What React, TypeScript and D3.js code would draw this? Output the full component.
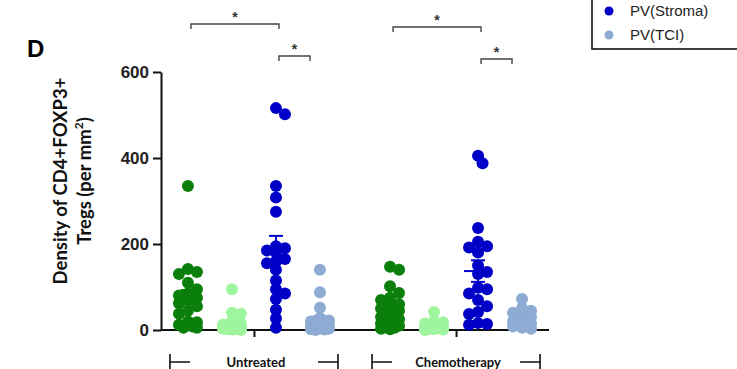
import { useRef, useEffect } from 'react';
import * as d3 from 'd3';

const W = 737;
const H = 369;

const groups = ['Untreated', 'Chemotherapy'];
const seriesKeys = ['npStroma', 'npTci', 'pvStroma', 'pvTci'];
const seriesColors: Record<string, string> = {
  npStroma: '#0b7f0b',
  npTci: '#9ef59e',
  pvStroma: '#0000c6',
  pvTci: '#8eabd4',
};

// legend (only the visible part of the original legend)
const legendItems = [
  { key: 'pvStroma', label: 'PV(Stroma)' },
  { key: 'pvTci', label: 'PV(TCI)' },
];

const yTicks = [0, 200, 400, 600];

// values, per group and series
const untreatedNpStroma = [335, 142, 135, 130, 110, 95, 85, 80, 75, 70, 62, 55, 45, 38, 20, 18, 12, 8, 5, 5];
const untreatedNpTci = [95, 40, 38, 20, 15, 12, 10, 8, 5, 5, 3, 2, 2, 1, 0];
const untreatedPvStroma = [516, 502, 335, 308, 275, 195, 190, 185, 180, 165, 160, 155, 140, 115, 95, 85, 72, 47, 27, 5];
const untreatedPvTci = [140, 88, 52, 28, 22, 20, 18, 15, 12, 10, 8, 6, 5, 4, 3, 2, 1, 0];

const chemoNpStroma = [147, 140, 102, 86, 75, 70, 60, 55, 50, 45, 35, 30, 25, 20, 15, 10, 8, 5, 3, 2];
const chemoNpTci = [42, 20, 18, 15, 12, 10, 8, 6, 5, 4, 3, 2, 1, 0];
const chemoPvStroma = [405, 388, 237, 205, 195, 192, 180, 150, 135, 130, 98, 95, 85, 70, 55, 42, 37, 16, 14, 12];
const chemoPvTci = [72, 50, 45, 40, 35, 30, 28, 25, 20, 18, 15, 12, 10, 8, 5, 3];

const columns = [
  { group: 'Untreated', key: 'npStroma', values: untreatedNpStroma },
  { group: 'Untreated', key: 'npTci', values: untreatedNpTci },
  { group: 'Untreated', key: 'pvStroma', values: untreatedPvStroma },
  { group: 'Untreated', key: 'pvTci', values: untreatedPvTci },
  { group: 'Chemotherapy', key: 'npStroma', values: chemoNpStroma },
  { group: 'Chemotherapy', key: 'npTci', values: chemoNpTci },
  { group: 'Chemotherapy', key: 'pvStroma', values: chemoPvStroma },
  { group: 'Chemotherapy', key: 'pvTci', values: chemoPvTci },
];

// significance brackets: from series a to series b (b null = short bracket)
const significance = [
  { group: 'Untreated', from: 'npStroma', to: 'pvStroma', level: 0, label: '*' },
  { group: 'Untreated', from: 'pvStroma', to: null, level: 1, label: '*' },
  { group: 'Chemotherapy', from: 'npStroma', to: 'pvStroma', level: 0, label: '*' },
  { group: 'Chemotherapy', from: 'pvStroma', to: null, level: 1, label: '*' },
];

const R = 6;

// simple deterministic beeswarm: offsets in pixels for each value
function swarm(values: number[], y: d3.ScaleLinear<number, number>) {
  const step = 4.5;
  const slots = [0, step, -step, 2 * step, -2 * step];
  const placed: { x: number; y: number; v: number }[] = [];
  const sorted = [...values].sort((a, b) => b - a);
  for (const v of sorted) {
    const py = y(v);
    let best = 0;
    let bestD = -1;
    for (const s of slots) {
      let minD = Infinity;
      for (const p of placed) minD = Math.min(minD, Math.hypot(p.x - s, p.y - py));
      if (minD >= 8.5) { best = s; bestD = Infinity; break; }
      if (minD > bestD) { bestD = minD; best = s; }
    }
    placed.push({ x: best, y: py, v });
  }
  return placed;
}

export default function App() {
  const svgRef = useRef<SVGSVGElement>(null);

  useEffect(() => {
    const svg = d3.select(svgRef.current);
    svg.selectAll('*').remove();

    const plotLeft = 161;
    const plotRight = 549;
    const plotTop = 72;
    const plotBottom = 330;

    const y = d3.scaleLinear().domain([0, 600]).range([plotBottom, plotTop]);
    const xGroup = d3.scalePoint<string>().domain(groups).range([plotLeft, plotRight]).padding(0.46);
    const xSeries = d3.scalePoint<string>().domain(seriesKeys).range([-66, 66]);
    const colX = (g: string, k: string) => (xGroup(g) ?? 0) + (xSeries(k) ?? 0);

    // panel letter
    svg.append('text')
      .attr('x', 27).attr('y', 57)
      .attr('font-family', 'Liberation Sans, Arial, sans-serif')
      .attr('font-weight', 'bold').attr('font-size', 24)
      .text('D');

    // y axis
    const yAxisG = svg.append('g')
      .attr('transform', `translate(${plotLeft},0)`)
      .call(d3.axisLeft(y).tickValues(yTicks).tickSize(8).tickSizeOuter(0).tickPadding(4));
    yAxisG.select('.domain').attr('stroke', '#111').attr('stroke-width', 2);
    yAxisG.selectAll('.tick line').attr('stroke', '#111').attr('stroke-width', 2);
    yAxisG.selectAll('.tick text')
      .attr('font-family', 'Liberation Sans, Arial, sans-serif')
      .attr('font-weight', 'bold').attr('font-size', 17).attr('fill', '#222');

    // y title
    const title = svg.append('text')
      .attr('transform', `translate(61,181) rotate(-90)`)
      .attr('text-anchor', 'middle')
      .attr('font-family', 'Lato, Open Sans, sans-serif')
      .attr('font-weight', 'bold').attr('font-size', 18.5).attr('fill', '#111');
    title.append('tspan').attr('x', 0).attr('dy', '0.35em').text('Density of CD4+FOXP3+');
    const t2 = title.append('tspan').attr('x', 0).attr('dy', '1.25em').text('Tregs (per mm');
    t2.append('tspan').attr('font-size', 12).attr('dy', '-0.6em').text('2');
    t2.append('tspan').attr('dy', '0.4em').text(')');

    // x axis
    const xAxisG = svg.append('g')
      .attr('transform', `translate(0,${plotBottom})`)
      .call(d3.axisBottom(xGroup).tickSize(7).tickSizeOuter(0).tickFormat(() => ''));
    xAxisG.select('.domain').attr('stroke', '#111').attr('stroke-width', 2)
      .attr('d', `M${plotLeft},0H${plotRight}`);
    xAxisG.selectAll('.tick line').attr('stroke', '#111').attr('stroke-width', 2);

    // group labels with bracket ends
    const labelY = 362;
    groups.forEach((g) => {
      const cx = xGroup(g) ?? 0;
      const half = 84;
      const gl = svg.append('g').attr('stroke', '#111').attr('stroke-width', 1.6).attr('fill', 'none');
      gl.append('path').attr('d', `M${cx - half},${labelY - 8}V${labelY + 10}M${cx - half},${labelY}H${cx - half + 20}`);
      gl.append('path').attr('d', `M${cx + half},${labelY - 8}V${labelY + 10}M${cx + half},${labelY}H${cx + half - 20}`);
      svg.append('text')
        .attr('x', cx + 2).attr('y', labelY + 5)
        .attr('text-anchor', 'middle')
        .attr('font-family', 'Lato, Open Sans, sans-serif')
        .attr('font-weight', 'bold').attr('font-size', 13).attr('fill', '#111')
        .text(g);
    });

    // points + mean/SEM
    columns.forEach((c) => {
      const cx = colX(c.group, c.key);
      const color = seriesColors[c.key];
      const pts = swarm(c.values, y);
      svg.append('g')
        .selectAll('circle')
        .data(pts)
        .join('circle')
        .attr('cx', (d) => cx + d.x)
        .attr('cy', (d) => d.y)
        .attr('r', R)
        .attr('fill', color);

      const mean = d3.mean(c.values) ?? 0;
      const sem = (d3.deviation(c.values) ?? 0) / Math.sqrt(c.values.length);
      const eg = svg.append('g').attr('stroke', color).attr('stroke-width', 2).attr('fill', 'none');
      eg.append('line').attr('x1', cx - 14).attr('x2', cx + 14).attr('y1', y(mean)).attr('y2', y(mean));
      eg.append('line').attr('x1', cx).attr('x2', cx).attr('y1', y(mean - sem)).attr('y2', y(mean + sem));
      eg.append('line').attr('x1', cx - 7).attr('x2', cx + 7).attr('y1', y(mean + sem)).attr('y2', y(mean + sem));
      eg.append('line').attr('x1', cx - 7).attr('x2', cx + 7).attr('y1', y(mean - sem)).attr('y2', y(mean - sem));
    });

    // significance brackets
    significance.forEach((s) => {
      const x1 = colX(s.group, s.from) + 3;
      const x2 = s.to ? colX(s.group, s.to) + 3 : x1 + 31;
      const by = s.level === 0 ? (s.group === 'Untreated' ? 24 : 27) : (s.group === 'Untreated' ? 56 : 59);
      svg.append('path')
        .attr('d', `M${x1},${by + 5}V${by}H${x2}V${by + 5}`)
        .attr('fill', 'none').attr('stroke', '#444').attr('stroke-width', 1.4);
      svg.append('text')
        .attr('x', (x1 + x2) / 2).attr('y', by - 2)
        .attr('text-anchor', 'middle')
        .attr('font-family', 'Liberation Sans, Arial, sans-serif')
        .attr('font-weight', 'bold').attr('font-size', 14).attr('fill', '#333')
        .text(s.label);
    });

    // legend (top is cut off in the original)
    const lg = svg.append('g');
    lg.append('rect')
      .attr('x', 592).attr('y', -40).attr('width', 200).attr('height', 89)
      .attr('fill', 'white').attr('stroke', '#111').attr('stroke-width', 1.6);
    legendItems.forEach((it, i) => {
      const ly = 11 + i * 24;
      lg.append('circle').attr('cx', 609).attr('cy', ly).attr('r', 4.5).attr('fill', seriesColors[it.key]);
      lg.append('text')
        .attr('x', 630).attr('y', ly + 5)
        .attr('font-family', 'Liberation Sans, Arial, sans-serif')
        .attr('font-size', 15).attr('fill', '#222')
        .text(it.label);
    });
  }, []);

  return (
    <svg ref={svgRef} width={W} height={H} style={{ position: 'absolute', left: 0, top: 0, background: '#fff' }} />
  );
}
